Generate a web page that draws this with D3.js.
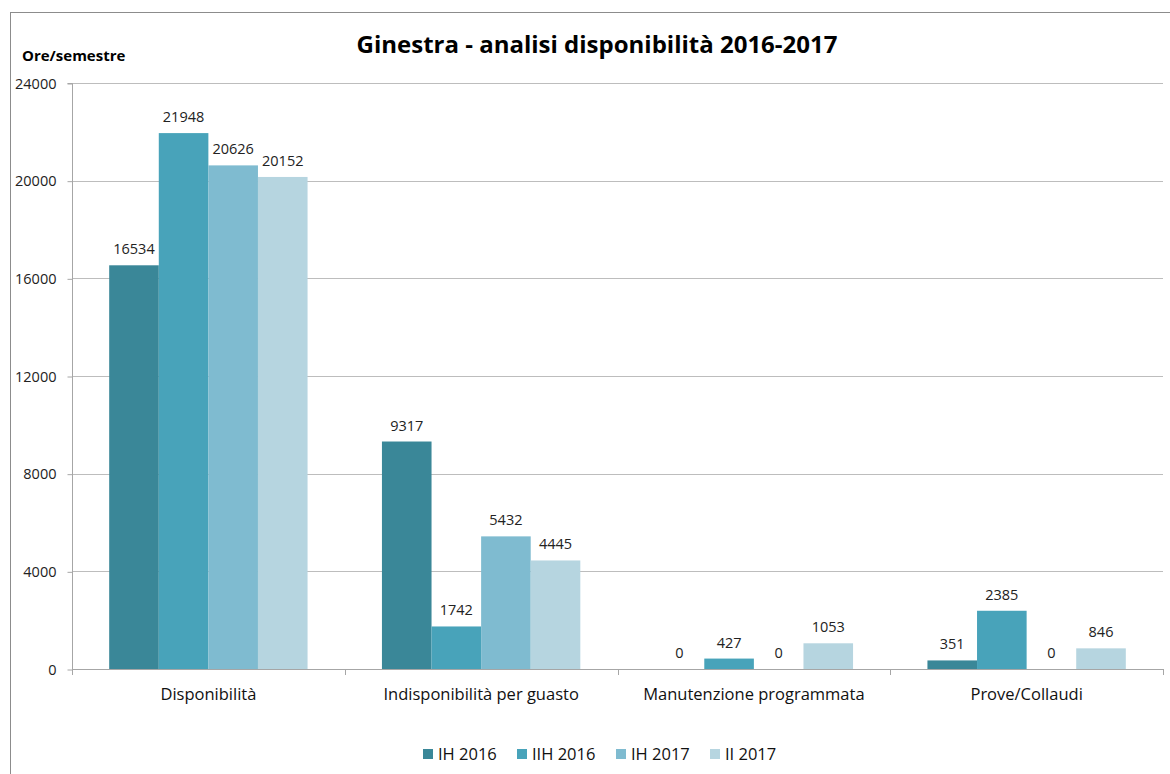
<!DOCTYPE html>
<html>
<head>
<meta charset="utf-8">
<script src="https://cdn.jsdelivr.net/npm/d3@7/dist/d3.min.js"></script>
<style>
  html, body { margin: 0; padding: 0; background: #fff; }
  svg { display: block; font-family: "Open Sans", "Noto Sans", sans-serif; }
</style>
</head>
<body>
<svg id="chart" width="1170" height="774"></svg>
<script>
// Hours per semester by availability category
const categories = ["Disponibilità", "Indisponibilità per guasto", "Manutenzione programmata", "Prove/Collaudi"];
const seriesNames = ["IH 2016", "IIH 2016", "IH 2017", "II 2017"];
const ih2016 = [16534, 9317, 0, 351];
const iih2016 = [21948, 1742, 427, 2385];
const ih2017 = [20626, 5432, 0, 0];
const ii2017 = [20152, 4445, 1053, 846];
const yTicks = [0, 4000, 8000, 12000, 16000, 20000, 24000];
const colors = ["#3a8798", "#48a3ba", "#7fbbd0", "#b6d5e0"];

const seriesValues = [ih2016, iih2016, ih2017, ii2017];
const rows = categories.map((c, i) => ({ cat: c, values: seriesValues.map(s => s[i]) }));

const svg = d3.select("#chart");

// Outer chart frame
svg.append("rect")
  .attr("x", 10.5).attr("y", 12.5)
  .attr("width", 1200).attr("height", 800)
  .attr("fill", "none").attr("stroke", "#8c8c8c").attr("stroke-width", 1);

const plot = { left: 72, right: 1163, top: 83, bottom: 669 };

const x0 = d3.scaleBand().domain(categories).range([plot.left, plot.right]).paddingInner(0).paddingOuter(0);
// gap width of 150% of one bar: 4 bars + 1.5 bar-width gap per band
const groupFrac = 4 / 5.5;
const x1 = d3.scaleBand().domain(seriesNames)
  .range([0, x0.bandwidth() * groupFrac]).padding(0);
const groupOffset = x0.bandwidth() * (1 - groupFrac) / 2;

const y = d3.scaleLinear().domain([0, 24000]).range([plot.bottom, plot.top]);

// Horizontal gridlines
svg.append("g").selectAll("line").data(yTicks.filter(t => t > 0)).join("line")
  .attr("x1", plot.left).attr("x2", plot.right)
  .attr("y1", d => Math.round(y(d)) + 0.5).attr("y2", d => Math.round(y(d)) + 0.5)
  .attr("stroke", "#bdbdbd").attr("stroke-width", 1);

// Y axis
const yAxis = d3.axisLeft(y).tickValues(yTicks).tickSize(5).tickPadding(11).tickFormat(d3.format("d"));
const gy = svg.append("g").attr("transform", `translate(${plot.left + 0.5},0.5)`).call(yAxis);
gy.select(".domain").attr("stroke", "#a6a6a6").attr("d", `M-5,${plot.top}H0V${plot.bottom}`);
gy.selectAll(".tick line").attr("stroke", "#a6a6a6");
gy.selectAll(".tick text").attr("fill", "#222").style("font-size", "14.5px").style("font-family", "'Open Sans', sans-serif");

// Bars
const groups = svg.append("g").selectAll("g").data(rows).join("g")
  .attr("transform", d => `translate(${x0(d.cat) + groupOffset},0)`);

groups.selectAll("rect").data(d => d.values.map((v, i) => ({ v, name: seriesNames[i], i }))).join("rect")
  .attr("x", d => x1(d.name))
  .attr("width", x1.bandwidth())
  .attr("y", d => y(d.v))
  .attr("height", d => y(0) - y(d.v))
  .attr("fill", d => colors[d.i]);

// Value labels
groups.selectAll("text").data(d => d.values.map((v, i) => ({ v, name: seriesNames[i], i }))).join("text")
  .attr("x", d => x1(d.name) + x1.bandwidth() / 2)
  .attr("y", d => y(d.v) - 11)
  .attr("text-anchor", "middle")
  .attr("fill", "#222")
  .style("font-size", "14.5px")
  .text(d => d.v);

// X axis
const xAxis = d3.axisBottom(x0).tickSize(0).tickPadding(19);
const gx = svg.append("g").attr("transform", `translate(0,${plot.bottom + 0.5})`).call(xAxis);
gx.select(".domain").attr("stroke", "#a6a6a6").attr("d", `M${plot.left},0H${plot.right}`);
gx.selectAll(".tick text").attr("fill", "#111").style("font-size", "16.5px").style("font-family", "'Open Sans', sans-serif");
// category separator ticks
svg.append("g").selectAll("line").data(categories.map(c => x0(c)).concat([plot.right])).join("line")
  .attr("x1", d => Math.round(d) + 0.5).attr("x2", d => Math.round(d) + 0.5)
  .attr("y1", plot.bottom).attr("y2", plot.bottom + 6)
  .attr("stroke", "#a6a6a6");

// Title
svg.append("text")
  .attr("x", 597).attr("y", 53)
  .attr("text-anchor", "middle")
  .style("font-size", "24px").style("font-weight", "bold")
  .attr("fill", "#000")
  .text("Ginestra - analisi disponibilità 2016-2017");

// Y axis title
svg.append("text")
  .attr("x", 22).attr("y", 61)
  .style("font-size", "15px").style("font-weight", "bold")
  .attr("fill", "#000")
  .text("Ore/semestre");

// Legend
const legendX = [423, 517, 616, 710];
const legend = svg.append("g").selectAll("g").data(seriesNames).join("g")
  .attr("transform", (d, i) => `translate(${legendX[i]},749)`);
legend.append("rect").attr("width", 10).attr("height", 10).attr("fill", (d, i) => colors[i]);
legend.append("text").attr("x", 15).attr("y", 11)
  .style("font-size", "16.5px").attr("fill", "#111").text(d => d);
</script>
</body>
</html>
